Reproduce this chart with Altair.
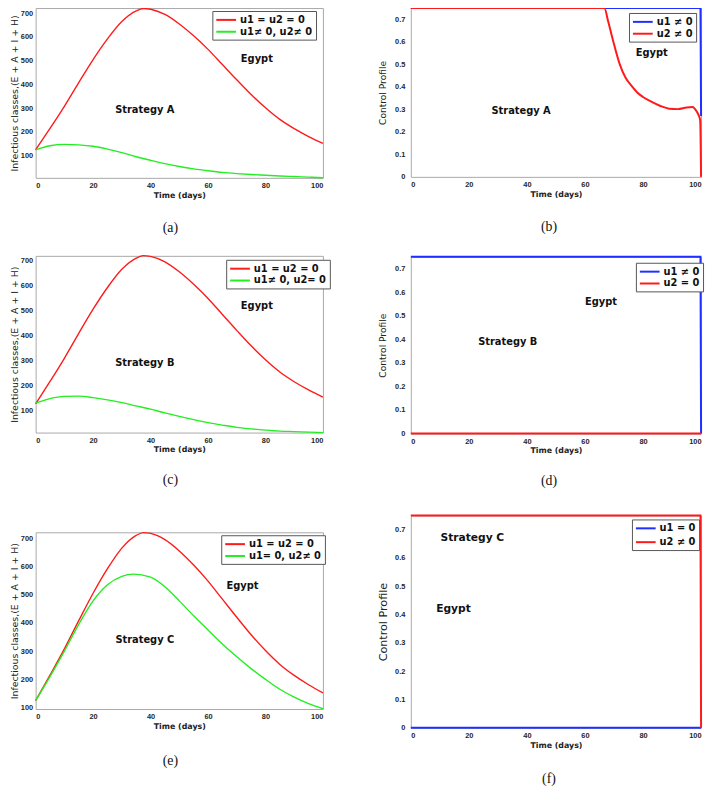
import altair as alt
import pandas as pd

# ---------------- data ----------------
T_RED = [0, 5, 10, 15, 20, 25, 30, 35, 37.5, 40, 45, 50, 55, 60, 65, 70, 75, 80, 85, 90, 95, 100]
RED_NO_CONTROL = [125, 215, 308, 408, 505, 592, 665, 710, 720, 717, 695, 655, 605, 548, 484, 420, 358, 302, 253, 214, 181, 152]

T_GREEN = [0, 5, 10, 15, 20, 25, 30, 35, 40, 45, 50, 55, 60, 65, 70, 75, 80, 85, 90, 95, 100]
GREEN_A = [125, 142, 148, 146, 140, 128, 113, 96, 81, 67, 55, 45, 37, 30, 25, 21, 18, 15, 12.5, 10, 7.5]
GREEN_B = [128, 146, 155, 156, 150, 141, 130, 117, 104, 89, 75, 62, 50, 40, 31, 25, 20, 16, 14, 12, 10]
T_GREEN_C = [0, 5, 10, 15, 20, 25, 30, 34, 40, 45, 50, 55, 60, 65, 70, 75, 80, 85, 90, 95, 100]
GREEN_C = [125, 210, 300, 395, 478, 535, 565, 573, 562, 528, 478, 425, 375, 325, 280, 238, 200, 165, 137, 114, 96]

T_U2_A = [0, 66.7, 68, 70, 72, 74, 76, 78, 80, 83, 86, 89, 92, 95, 97, 98.5, 99.3, 99.7, 100]
U2_A = [0.75, 0.75, 0.69, 0.59, 0.5, 0.44, 0.405, 0.375, 0.355, 0.333, 0.315, 0.303, 0.301, 0.308, 0.31, 0.29, 0.27, 0.25, 0]
T_U1_A = [0, 99.8, 100]
U1_A = [0.75, 0.75, 0.27]

T_U1_B = [0, 99.8, 100]
U1_B = [0.75, 0.75, 0]
T_U2_B = [0, 100]
U2_B = [0, 0]

T_U1_C = [0, 100]
U1_C = [0, 0]
T_U2_C = [0, 99.8, 100]
U2_C = [0.75, 0.75, 0]

INF_TICKS = [100, 200, 300, 400, 500, 600, 700]
CTRL_TICKS = [0, 0.1, 0.2, 0.3, 0.4, 0.5, 0.6, 0.7]
TIME_TICKS = [0, 20, 40, 60, 80, 100]

RED = "#ff1a1a"
GREEN = "#22ee22"
BLUE = "#1f2fff"

BOLD = "DejaVu Sans"
SANS = "Liberation Sans"
SERIF = "Liberation Serif"

# legend line sample: a horizontal stroke drawn from the left edge of the symbol cell
LEGEND_LINE = "M-1,0H3"


def panel(series, ydom, yticks, ytitle, leg_xy, notes, caption, w, h, sw,
          ytitle_size=9.5, note_size=10, ctrl=False, lab_pad=3, title_pad=1,
          cap_offset=20, cap_dx=-9, row_pad=1):
    dom = [s[0] for s in series]
    rng = [s[1] for s in series]
    xsc = alt.Scale(domain=[0, 100], nice=False, zero=False)
    ysc = alt.Scale(domain=ydom, nice=False, zero=False)
    common = dict(labelFont=SANS, labelFontWeight="bold", labelFontSize=7.5,
                  labelColor="#262626", domain=False, ticks=False, grid=False,
                  labelOverlap=False)
    xax = alt.Axis(values=TIME_TICKS, title="Time (days)", titleFont=BOLD,
                   titleFontWeight="bold", titleFontSize=8, titleColor="#222",
                   labelPadding=4, titlePadding=2, **common)
    yargs = dict(values=yticks, title=ytitle, titleFont=BOLD, titleFontWeight="normal",
                 titleFontSize=ytitle_size, titleColor="#222", labelPadding=lab_pad,
                 titlePadding=title_pad, **common)
    if ctrl:
        yargs["labelExpr"] = "datum.value == 0 ? '0' : format(datum.value, '.1f')"
    yax = alt.Axis(**yargs)
    leg = alt.Legend(orient="none", legendX=w - leg_xy[0], legendY=leg_xy[1], title=None,
                     symbolType=LEGEND_LINE, symbolSize=100, symbolStrokeWidth=2,
                     labelFont=BOLD, labelFontWeight="bold", labelFontSize=10,
                     labelColor="#111", labelOffset=13, padding=3, rowPadding=row_pad,
                     strokeColor="#555", fillColor="white", cornerRadius=0)
    layers = []
    for name, color, t, v, interp in series:
        df = pd.DataFrame({"t": t, "v": v, "s": [name] * len(t)})
        layers.append(
            alt.Chart(df).mark_line(strokeWidth=sw, interpolate=interp).encode(
                x=alt.X("t:Q", scale=xsc, axis=xax),
                y=alt.Y("v:Q", scale=ysc, axis=yax),
                color=alt.Color("s:N", scale=alt.Scale(domain=dom, range=rng), legend=leg),
            )
        )
    ndf = pd.DataFrame({"t": [n[1] for n in notes], "v": [n[2] for n in notes],
                        "label": [n[0] for n in notes]})
    layers.append(
        alt.Chart(ndf).mark_text(font=BOLD, fontWeight="bold", fontSize=note_size,
                                 color="#111").encode(
            x=alt.X("t:Q", scale=xsc, axis=xax), y=alt.Y("v:Q", scale=ysc, axis=yax),
            text="label:N")
    )
    return alt.layer(*layers).properties(
        width=w, height=h,
        title=alt.TitleParams(caption, orient="bottom", font=SERIF, fontSize=14,
                              fontWeight="normal", color="#111", offset=cap_offset,
                              frame="group", anchor="middle", dx=cap_dx),
    )


INF_TITLE = "Infectious classes,(E + A + I + H)"
CTRL_TITLE = "Control Profile"
WL, WR = 291, 294

pa = panel(
    [("u1 = u2 = 0", RED, T_RED, RED_NO_CONTROL, "monotone"),
     ("u1\u2260 0, u2\u2260 0", GREEN, T_GREEN, GREEN_A, "monotone")],
    [7, 722], INF_TICKS, INF_TITLE, (112, 3),
    [("Strategy A", 38, 293), ("Egypt", 77, 509)], "(a)", WL, 172, 1.4, cap_offset=22)
pc = panel(
    [("u1 = u2 = 0", RED, T_RED, RED_NO_CONTROL, "monotone"),
     ("u1\u2260 0, u2= 0", GREEN, T_GREEN, GREEN_B, "monotone")],
    [10, 719], INF_TICKS, INF_TITLE, (98, 4),
    [("Strategy B", 38, 288), ("Egypt", 77, 519)], "(c)", WL, 179, 1.4)
pe = panel(
    [("u1 = u2 = 0", RED, T_RED, RED_NO_CONTROL, "monotone"),
     ("u1= 0, u2\u2260 0", GREEN, T_GREEN_C, GREEN_C, "monotone")],
    [95, 721], INF_TICKS, INF_TITLE, (103, 3),
    [("Strategy C", 38, 340), ("Egypt", 72, 532)], "(e)", WL, 179, 1.4, cap_offset=24)

pb = panel(
    [("u1 \u2260 0", BLUE, T_U1_A, U1_A, "linear"),
     ("u2 \u2260 0", RED, T_U2_A, U2_A, "monotone")],
    [0, 0.75], CTRL_TICKS, CTRL_TITLE, (73, 5),
    [("Strategy A", 38, 0.294), ("Egypt", 83, 0.549)], "(b)", WR, 171, 2,
    ytitle_size=9.2, ctrl=True, lab_pad=6, title_pad=7, cap_dx=-7, cap_offset=22)
pd_ = panel(
    [("u1 \u2260 0", BLUE, T_U1_B, U1_B, "linear"),
     ("u2 = 0", RED, T_U2_B, U2_B, "linear")],
    [0, 0.75], CTRL_TICKS, CTRL_TITLE, (66, 6),
    [("Strategy B", 33.4, 0.389), ("Egypt", 65.5, 0.557)], "(d)", WR, 179, 2,
    ytitle_size=9.2, ctrl=True, lab_pad=6, title_pad=7, cap_dx=-7)
pf = panel(
    [("u1 = 0", BLUE, T_U1_C, U1_C, "linear"),
     ("u2 \u2260 0", RED, T_U2_C, U2_C, "linear")],
    [0, 0.75], CTRL_TICKS, CTRL_TITLE, (70, 4),
    [("Strategy C", 21.2, 0.669), ("Egypt", 14.7, 0.42)], "(f)", WR, 215, 2,
    ytitle_size=11.3, note_size=10.8, ctrl=True, lab_pad=6, title_pad=6, cap_dx=-7,
    row_pad=3, cap_offset=23)

left = alt.vconcat(
    pa,
    alt.vconcat(pc, pe, spacing=41).resolve_scale(color="independent").resolve_legend(color="independent"),
    spacing=17,
).resolve_scale(color="independent").resolve_legend(color="independent")

right = alt.vconcat(
    pb,
    alt.vconcat(pd_, pf, spacing=22).resolve_scale(color="independent").resolve_legend(color="independent"),
    spacing=18,
).resolve_scale(color="independent").resolve_legend(color="independent")

chart = alt.hconcat(left, right, spacing=47).resolve_scale(
    color="independent").resolve_legend(color="independent").properties(
    padding={"top": -10, "left": 0, "right": 0, "bottom": 0}, background="white"
).configure_view(stroke="#a9a9a9", strokeWidth=1).configure_axis(
    labelFont=SANS, labelFontWeight="bold", labelFontSize=7.5, labelColor="#262626",
    domain=False, ticks=False, grid=False, labelOverlap=False
)

chart.save("out.html", embed_options={"renderer": "svg", "actions": False})
